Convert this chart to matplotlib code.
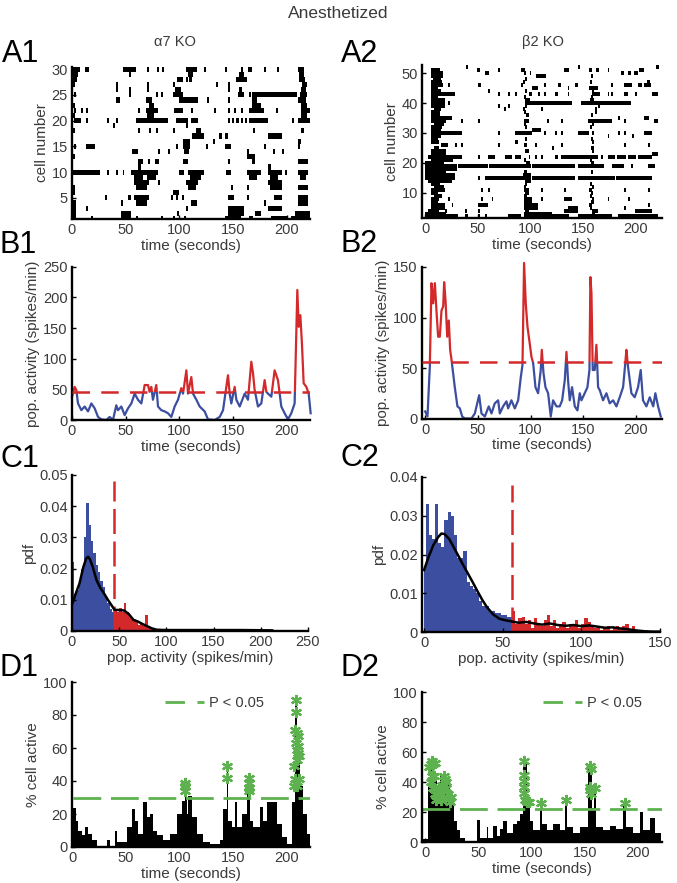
import matplotlib
matplotlib.use('Agg')
import matplotlib.pyplot as plt
import numpy as np
from matplotlib.patches import Rectangle
from matplotlib.lines import Line2D

plt.rcParams['font.family'] = ['Liberation Sans', 'DejaVu Sans']

# ---------------- DATA ----------------
# A1 raster: (cell, start s, end s)
A1_events = [
    (30,1,7),(30,12,15.5),(30,47,60),(30,70,72),(30,79,81),(30,84,86),(30,106,116),(30,123,124.5),
    (30,142,143.5),(30,157,158.5),(30,164,167),(30,179,180.5),(30,191,193),(30,210,216),
    (29,1,6),(28,1,5),(29,53,55),(28,106,107.5),(29,108,113),(28,109,112),(28,153,163),(29,155,160),
    (28,211,217),(29,211,216),
    (26,41,42.5),(27,41,42.5),(26,53,55),(27,70,71.5),(26,70,71.5),(27,94,95.5),(28,98,103),(27,134,135.5),
    (26,145,146.5),(27,145,146.5),(25,154,160),(26,155,158),(25,165,166.5),(27,214,219),(26,213,218),
    (25,2,3.5),(24,41,44.5),(25,53,55),(24,69,74),(25,78,79.5),(25,83,84.5),(26,96,101),(25,94,103),
    (24,100,117),(24,126,127.5),(24,145,146.5),(25,167,209),(24,167,172),(24,210,218),(25,212,219),
    (22,2,3.5),(22,8,9.5),(22,13,14.5),(22,61,62.5),(22,69,80),(23,72,76),(22,95,103),(22,111,112.5),
    (22,132,133.5),(22,145,146.5),(22,151,152.5),(22,157.5,159),(22,165,179),(23,167,176),(22,190,191.5),
    (22,213,221),(23,213,219),
    (20,2,8.5),(20,13,14.5),(20,33,34.5),(20,41,42.5),(20,60,89),(21,70,76),(20,97,108),(20,111,117),
    (20,145,147),(20,149,151),(20,153,155),(20,157,159),(20,161,163),(20,165,176),(20,176,182),
    (20,205,206.5),(20,210,222),(21,213,219),
    (19,38,39.5),(18,61,62.5),(18,72,73.5),(18,78,79.5),(18,94,95.5),(19,106,107.5),(17,112,123),
    (18,115,120),(18,168,169.5),(17,182,195),(18,213,216),
    (16,103,110),(16,131,132.7),(17,137,140),(17,142,145),(16,210,213),
    (15,2,3.5),(15,13,21),(14,56,61),(14,80,81.5),(14,89,90.5),(15,97,98.5),(15,103,110),(14,104,109),
    (15,125,126.5),(15,142,148),(14,163,164.5),(15,179,180.5),(14,187,188.5),(14,195,196.5),(15,210,212),
    (12,61,66),(12,71,72.5),(12,77,81),(12,103,108),(12,145,146.5),(13,163,170),(12,167,170),(11,182,185),
    (12,210,220),
    (10,0,25.7),(10,33,34.5),(10,41,42.5),(10,47,48.5),(10,55,68),(9,58,66),(11,61,64),(10,68,80),
    (9,70,78),(10,100,104),(10,108,123),(9,110,120),(10,143,148),(10,163,176),(9,165,172),(10,182,195),
    (9,184,192),(10,198,199.5),(10,210,220),(9,212,218),
    (8,58,72),(7,60,70),(8,80,81.5),(8,106,117),(7,108,115),(7,148,149.5),(7,163,164.5),(8,182,195),
    (7,184,195),(7,210,220),
    (4,1,4),(5,31,32.5),(4,46,47.5),(5,52,55),(5,58,72),(4,60,70),(6,94,100),(5,92,94),(5,97,99),
    (5,102,104),(4,111,116),(5,145,151),(5,163,164.5),(4,179,180.5),(5,188,195),(5,210,220),(4,210,220),
    (3,1,4),(2,1,4),(3,13,15),(2,46,55),(2,98,99.5),(3,106,107.5),(3,145,160),(2,145,160),(2,170,176),
    (3,182,195),(2,207,221),
    (1,1,4),(1,18,19.5),(1,46,55),(1,60,61.5),(1,83,84.5),(1,94,95.5),(1,104,106),(1,142,157),
    (1,165,168),(1,185,201),(1,204,221),
    (27,1,3),(23,1,3),(21,1,3),(18,1,3),(13,1,3),(7,1,3),(6,1,3),
]

# A2 raster: (cell, start s, end s)
A2_events = [
    (50,6,17),(49,6,17),(48,7,15),(51,6,14),
    (52,39,40.5),(51,49,52),(50,57,61),(51,69,70.5),(51,91,95),(50,99,100.5),(49,105,115),(51,132,136),
    (52,145,146.5),(51,155,158),(51,162,165),(51,173,174.5),(50,186,189),(50,192,195),(50,198,202),
    (51,203,208),(52,219,222),
    (46,6,17),(45,6,12),(46,22,23.5),(46,50,53),(44,60,61.5),(46,91,92.5),(45,101,107),(46,113,114.5),
    (46,126,129),(45,135,136.5),(46,142,145),(45,155,164),(46,176,177.5),(46,189,196),(46,202,206),
    (46,208,214),(47,210,213),
    (43,6,28),(44,6,15),(42,6,12),(43,69,70.5),(43,79,80.5),(43,85,86.5),(43,98,101),(43,107,108.5),
    (43,113,114.5),(43,123,126),(43,135,136.5),(43,158,166),(43,173,174.5),(43,176,177.5),(43,189,192),
    (43,199,200.5),(43,215,221),
    (41,6,19),(40,6,19),(39,6,19),(38,8,15),(40,22,23.5),(39,69,70.5),(38,75,76.5),(39,79,80.5),
    (40,95,139),(39,95,96.5),(38,93,94.5),(38,110,111.5),(40,148,195),(38,161,162.5),(37,161,162.5),
    (39,164,165.5),
    (35,6,25),(34,6,20),(33,8,18),(36,6,14),(34,34,35.5),(34,50,51.5),(34,94,98),(34,116,117.5),
    (34,129,130.5),(34,154,177),(35,183,184.5),(34,189,190.5),(35,208,212),(34,217,221),
    (30,6,35),(31,6,15),(29,6,15),(30,69,70.5),(30,85,101),(31,101,110),(30,113,114.5),(30,123,124.5),
    (30,129,130.5),(30,145,155),(30,158,159.5),(29,173,174.5),(30,183,184.5),(30,189,190.5),
    (29,196,197.5),(30,208,215),
    (27,6,13),(26,15,22),(26,28,29.5),(26,34,35.5),(26,69,70.5),(27,85,88),(26,104,105.5),(25,120,121.5),
    (26,129,130.5),(27,158,159.5),(26,189,190.5),(26,211,212.5),
    (22,3,35),(23,6,20),(22,50,51.5),(22,60,66),(22,76,82),(22,85,91),(22,98,99.5),(22,104,105.5),
    (22,110,111.5),(22,123,126),(22,129,158),(22,158,164),(22,167,168.5),(22,173,180),(22,182,190),
    (22,192,200),(22,202,215),(23,215,221),
    (19,0,30),(19,31,60),(19,61,100),(19,101,142),(19,145,170),(19,177,189),(19,195,196.5),(19,211,218),
    (18,0,30),(20,0,10),
    (16,0,28),(15,0,28),(17,0,20),(14,3,25),(15,50,51.5),(15,57,100),(15,101,142),(15,145,180),
    (15,181,215),(16,93,100),(14,95,100),
    (11,6,19),(11,53,54.5),(11,60,61.5),(11,94,98),(11,110,111.5),(11,132,133.5),(11,155,158),
    (11,189,190.5),(11,211,212.5),
    (8,6,13),(8,22,23.5),(8,53,54.5),(8,63,64.5),(8,94,101),(7,94,101),(8,110,111.5),(8,132,139),
    (8,158,159.5),(8,173,174.5),(8,192,193.5),
    (6,6,19),(5,6,19),(6,25,26.5),(6,50,60),(5,94,107),(6,94,107),(5,135,145),(6,155,158),
    (5,189,190.5),(6,211,212.5),
    (4,3,13),(4,19,20.5),(4,38,39.5),(4,50,51.5),(3,94,120),(4,132,145),(4,158,164),(4,199,215),
    (2,0,31),(2,38,41),(2,50,51.5),(2,57,58.5),(2,79,91),(2,94,136),(2,145,177),(2,183,221),(3,0,12),
    # early burst band
    (47,6,16),(37,6,14),(32,6,16),(28,6,12),(25,8,13),(24,6,20),(21,6,26),(20,6,18),(13,6,14),
    (12,8,18),(10,6,12),(9,8,16),(7,6,12),(3,6,20),
    # band near 95 s
    (50,94,96),(48,95,97),(47,93,95),(44,95,97),(42,94,96),(41,95,99),(37,94,96),(36,96,98),(33,94,96),
    (32,95,97),(28,95,97),(26,94,97),(24,95,98),(21,94,96),(20,96,99),(17,94,97),(13,95,97),(12,94,96),
    (10,95,98),(9,94,97),(4,95,98),
    # band near 157 s
    (49,157,159),(47,156,158),(44,158,160),(42,157,159),(41,156,160),(36,157,159),(33,158,160),
    (32,156,158),(28,157,159),(25,157,160),(24,158,160),(21,156,158),(20,157,160),(17,157,159),
    (13,156,158),(12,158,160),(10,157,159),(9,156,158),(7,157,160),(5,156,158),(3,158,161),
]

# B1 population activity
B1_t = [0,2.5,4.0,5.6,8.7,11.8,14.9,18.0,21.1,24.2,27.3,31.9,35.0,38.1,41.2,42.8,45.9,49.0,52.1,55.2,
        58.3,61.4,64.5,67.6,70.7,72.2,73.8,75.3,78.4,80.0,83.1,86.2,89.3,92.4,95.5,98.6,101.7,103.3,106.4,
        107.9,111.0,112.6,115.7,118.8,123.4,126.5,132.7,137.4,140.5,145.1,146.7,148.2,151.3,152.9,156.0,
        160.6,163.7,166.8,168.4,169.9,173.0,176.1,179.2,180.8,182.3,185.4,188.5,191.6,194.7,197.8,200.9,
        204.0,207.1,209.6,210.9,212.4,213.9,215.5,218.0,220.2,222.0]
B1_v = [38,54,49,27,16,22,14,27,19,5,1,0,5,0,24,16,22,8,19,27,
        43,33,27,57,57,46,54,33,57,22,16,14,11,5,22,33,52,43,81,
        43,70,43,33,22,14,1,0,5,16,73,43,27,54,33,22,
        43,33,95,76,49,22,27,65,46,43,38,81,65,22,11,1,
        11,27,212,152,171,125,60,54,43,11]
B1_thr = 45

# B2 population activity
B2_t = [0,2.2,4.4,6.0,7.6,9.2,10.7,12.3,13.9,15.5,17.1,18.0,19.3,20.9,22.4,23.7,25.0,26.5,28.1,30.6,
        32.9,35.1,37.6,43.9,47.1,48.7,51.2,53.4,56.6,60.3,62.9,66.0,69.2,70.8,73.9,77.1,78.7,81.8,85.0,
        88.2,90.7,92.3,93.8,95.4,97.0,99.2,100.8,102.4,104.6,107.1,109.6,110.6,112.2,114.1,116.6,119.1,
        121.3,124.5,127.6,129.9,132.4,134.0,135.5,137.1,139.3,141.9,144.4,146.6,148.2,151.3,153.9,155.8,
        156.7,157.7,158.9,160.8,162.4,164.0,165.6,168.7,171.9,175.0,178.2,181.4,184.5,187.7,189.9,190.8,
        192.4,195.6,198.7,201.9,204.4,206.6,209.8,213.0,216.3,218.3,220.9,223.4]
B2_v = [7,2,51,134,114,134,107,81,81,107,111,135,117,81,97,68,58,45,31,12,
        10,2,0,0,5,12,23,5,2,12,5,15,18,5,12,17,10,18,10,
        18,41,53,154,114,91,74,61,55,31,25,48,68,45,31,25,2,
        18,12,12,18,38,66,38,18,31,12,8,25,18,25,31,48,
        140,124,48,48,73,31,28,18,25,15,18,12,21,31,56,68,
        51,25,21,31,48,18,12,21,12,25,12,2]
B2_thr = 56

# C1 histogram (pdf)
C1_edges = [0,2.5,5,7.5,10,12.5,15,17.5,20,22.5,25,27.5,30,32.5,35,37.5,40,42.5,45]
C1_blue = [0.022,0.012,0.013,0.016,0.020,0.030,0.041,0.034,0.029,0.025,0.021,0.019,0.016,0.014,
           0.011,0.009,0.007,0.006]
C1_red_edges = [45,47.5,50,52.5,55,57.5,60,62.5,65,67.5,70,72.5,75,77.5,80,82.5,85,87.5,90]
C1_red = [0.007,0.006,0.0075,0.006,0.009,0.006,0.005,0.004,0.0035,0.003,0.002,0.0025,0.0015,0.005,
          0.0015,0.001,0.0005,0.0005]
C1_tail_left = [147.5,150,197.5,210]
C1_tail_h = [0.0008,0.0005,0.0006,0.0004]
C1_kde_x = [0,4,8,12,15,17,19,22,26,30,34,38,42,45,50,55,60,65,70,75,80,85,90,100,120,150,180,212]
C1_kde_y = [0.0085,0.012,0.0153,0.0205,0.0232,0.0238,0.0230,0.0205,0.0163,0.0138,0.0120,0.0100,0.0082,
            0.0068,0.0067,0.0066,0.0055,0.0036,0.0030,0.0022,0.0015,0.0008,0.0004,0.0003,0.0003,0.0003,
            0.0003,0.0002]
C1_thr = 45

# C2 histogram (pdf)
C2_edges = [0,1.2,3,5,7,9,11,13,15,17,19,21,23,25,27,29,31,33,35,37,39,41,43,45,47,49,51,53,56]
C2_blue = [0.0165,0.033,0.025,0.024,0.033,0.023,0.022,0.029,0.031,0.030,0.025,0.019,0.019,0.021,
           0.013,0.012,0.011,0.010,0.008,0.0066,0.0066,0.0055,0.0054,0.005,0.005,0.0045,0.0045,0.004]
C2_red_edges = [56,58,60,62,64,66,68,70,72,74,76,78,80,82,84,86,88,90,92,94,96,98,100,102,104,106,
                108,110,112,114,116,118,120,122,124,126,128,130,132,134,136,138]
C2_red = [0.0055,0.002,0.0035,0.004,0.002,0.003,0.001,0.0035,0.002,0.0015,0.003,0.0045,0.0015,0.003,
          0.001,0.002,0.0025,0.001,0.002,0.0015,0.003,0.001,0.002,0.0035,0.0025,0.0015,0.001,0.0015,
          0.0005,0.001,0.0015,0.0005,0.001,0.0015,0.001,0.0015,0.002,0.0005,0.0015,0.0005,0.0005]
C2_kde_x = [0,3,6,9,11,13,16,19,22,25,28,31,34,37,40,44,48,52,56,60,65,70,75,80,85,90,95,100,105,110,
            115,120,125,130,135,140,145,150]
C2_kde_y = [0.016,0.0195,0.0225,0.0245,0.0254,0.0253,0.0240,0.0218,0.0195,0.0172,0.0150,0.0128,0.0105,
            0.0083,0.0064,0.0045,0.0034,0.0030,0.0027,0.0024,0.0026,0.0022,0.0019,0.0022,0.0018,0.0016,
            0.0018,0.0015,0.0017,0.0014,0.0011,0.0012,0.0009,0.0007,0.0004,0.0002,0.0001,0.0001]
C2_thr = 56

# D1 % cells active (step bars)
D1_edges = [0,3.4,5.5,8.6,11.7,14.8,17.9,22.6,31.9,35.0,39.7,41.2,50.6,55.2,58.3,61.4,66.1,69.3,72.4,
            75.5,78.6,84.9,91.1,97.3,102.0,105.1,106.7,108.2,111.4,116.0,122.3,128.5,137.9,141.0,144.1,
            145.6,148.8,151.9,154.1,158.1,162.8,165.9,169.0,175.2,178.4,181.5,184.6,190.8,195.5,200.2,
            204.8,207.9,209.5,212.6,215.7,218.8,222]
D1_pct = [23.5,16,10,7,12,8,4,0,4,0,10,3,12,23,16,8,27,18,20,10,7,4,8,20,28,38,20,31,18,8,
          3,2,4,23,48,16,12,27,12,20,38,16,12,24,16,27,27,14,6,2,27,88,63,37,20,8]
D1_star_t = [105,105,105,144,144,165,165,165,165,209,209,208,210,211,209,211,210,211,212,210,207,208,
             212,207,210]
D1_star_p = [34,37,39,49,42,34,36,39,42,89,82,71,69,67,63,61,59,57,55,53,49,41,41,37,37]
D1_sig = 30

# D2 % cells active (step bars)
D2_edges = [-3.1,3.1,5.3,7.8,10.9,14.1,17.2,20.3,23.4,26.6,29.7,32.8,37.5,48.4,51.6,57.8,59.4,64.1,
            67.2,70.3,73.5,76.6,82.8,86.0,89.1,91.6,95.3,98.4,101.5,107.8,109.7,114.1,120.3,126.6,131.3,
            133.5,139.1,145.4,153.1,156.3,158.5,160.9,167.2,173.4,179.7,185.9,189.1,195.3,201.6,204.7,
            210.9,215.6,221.9]
D2_pct = [2,39,55,45,30,45,40,38,25,14,8,3,1,15,3,10,3,11,4,9,14,6,12,14,19,54,28,14,8,26,
          12,8,12,8,28,10,6,10,52,23,37,10,8,11,9,27,10,6,20,8,16,6]
D2_star_t = [4,5,6,7,9,8,6,5,7,9,10,12,14,16,18,19,20,21,22,23,12,15,17,24,20,
             93,93,93,93,93,94,96,98,108.7,132.4,155,155.5,154.5,155,155.5,159.7,187.5]
D2_star_p = [50,52,54,52,53,44,44,40,36,32,28,30,33,38,44,42,36,32,29,27,35,28,30,30,40,
             54,45,41,37,33,28,27,27,26,28,51,49,37,35,32,36,26]
D2_sig = 22

# ---------------- STYLE ----------------
BLUE = '#3c4e9f'
RED = '#d3292b'
GREEN = '#5db14f'
TXT = '#3a3a3a'
W, H = 677, 883

fig = plt.figure(figsize=(W / 100, H / 100), dpi=100)


def axes_px(l, t, r, b):
    return fig.add_axes([l / W, 1 - b / H, (r - l) / W, (b - t) / H])


def style(ax, xlim, ylim, xticks, yticks, xlabel, ylabel, yticklabels=None):
    for s in ['top', 'right']:
        ax.spines[s].set_visible(False)
    for s in ['left', 'bottom']:
        ax.spines[s].set_linewidth(1.7)
    ax.set_xlim(xlim)
    ax.set_ylim(ylim)
    ax.set_xticks(xticks)
    ax.set_yticks(yticks)
    if yticklabels is not None:
        ax.set_yticklabels(yticklabels)
    ax.tick_params(direction='in', length=3, width=1, labelsize=10.5, labelcolor=TXT, pad=3)
    ax.set_xlabel(xlabel, fontsize=11, color=TXT, labelpad=1)
    ax.set_ylabel(ylabel, fontsize=11, color=TXT, labelpad=2)


def raster(ax, events, height, minw):
    c = np.array([e[0] for e in events], float)
    s = np.array([e[1] for e in events], float)
    e = np.array([e[2] for e in events], float)
    w = np.maximum(e - s, minw)
    ax.barh(c, w, left=s, height=height, color='k', linewidth=0)


def trace(ax, t, v, thr, xlim):
    lb, = ax.plot(t, v, color=BLUE, lw=1.6, zorder=2)
    lr, = ax.plot(t, v, color=RED, lw=1.6, zorder=2)
    rb = Rectangle((xlim[0] - 50, -100), 1000, thr + 100, transform=ax.transData)
    ra = Rectangle((xlim[0] - 50, thr), 1000, 2000, transform=ax.transData)
    lb.set_clip_path(rb)
    lr.set_clip_path(ra)
    ax.plot([xlim[0], xlim[1]], [thr, thr], color=RED, lw=1.8, dashes=(7, 4.5), zorder=3)


tticks = [0, 50, 100, 150, 200]

# A1
ax = axes_px(72, 66.7, 310, 219.3)
raster(ax, A1_events, 1.0, 1.8)
style(ax, (0, 221.4), (0.85, 30.45), tticks, [5, 10, 15, 20, 25, 30], 'time (seconds)', 'cell number')

# A2
ax = axes_px(422, 65, 662, 218)
raster(ax, A2_events, 1.35, 1.8)
style(ax, (-3, 224.6), (1.5, 52.8), tticks, [10, 20, 30, 40, 50], 'time (seconds)', 'cell number')

# B1
ax = axes_px(72, 266.7, 310, 420)
xl = (0, 221.4)
trace(ax, B1_t, B1_v, B1_thr, xl)
style(ax, xl, (0, 250), tticks, [0, 50, 100, 150, 200, 250], 'time (seconds)', 'pop. activity (spikes/min)')

# B2
ax = axes_px(422, 267, 662, 418.5)
xl = (-3, 224.6)
trace(ax, B2_t, B2_v, B2_thr, xl)
style(ax, xl, (0, 150), tticks, [0, 50, 100, 150], 'time (seconds)', 'pop. activity (spikes/min)')

# C1
ax = axes_px(72, 475, 308, 631)
ax.stairs(C1_blue, C1_edges, fill=True, color=BLUE, linewidth=0)
ax.stairs(C1_red, C1_red_edges, fill=True, color=RED, linewidth=0)
ax.bar(C1_tail_left, C1_tail_h, width=2.5, align='edge', color=RED, linewidth=0)
ax.plot([C1_thr, C1_thr], [0, 0.048], color=RED, lw=1.8, dashes=(10, 3), zorder=1)
ax.plot(C1_kde_x, C1_kde_y, color='k', lw=1.8, zorder=3)
style(ax, (0, 250), (0, 0.05), [0, 50, 100, 150, 200, 250], [0, 0.01, 0.02, 0.03, 0.04, 0.05],
      'pop. activity (spikes/min)', 'pdf', ['0', '0.01', '0.02', '0.03', '0.04', '0.05'])

# C2
ax = axes_px(422, 477, 660, 632)
ax.stairs(C2_blue, C2_edges, fill=True, color=BLUE, linewidth=0)
ax.stairs(C2_red, C2_red_edges, fill=True, color=RED, linewidth=0)
ax.plot([C2_thr, C2_thr], [0, 0.038], color=RED, lw=1.8, dashes=(10, 3), zorder=1)
ax.plot(C2_kde_x, C2_kde_y, color='k', lw=1.8, zorder=3)
style(ax, (-1.3, 150), (0, 0.04), [0, 50, 100, 150], [0, 0.01, 0.02, 0.03, 0.04],
      'pop. activity (spikes/min)', 'pdf', ['0', '0.01', '0.02', '0.03', '0.04'])

# D1
ax = axes_px(72, 682, 310, 847)
ax.stairs(D1_pct, D1_edges, fill=True, color='k', linewidth=0)
ax.plot([0, 222], [D1_sig, D1_sig], color=GREEN, lw=2.0, dashes=(10, 3.5), zorder=2)
ax.plot(D1_star_t, D1_star_p, linestyle='none', marker=(6, 2, 0), markersize=8, mew=1.6,
        color=GREEN, zorder=4)
h = Line2D([], [], color=GREEN, lw=2.0, dashes=(7, 4.5))
ax.legend([h], ['P < 0.05'], loc='center right', bbox_to_anchor=(0.83, 0.875), frameon=False,
          fontsize=10.5, handlelength=2.7, handletextpad=0.3, labelcolor=TXT, borderaxespad=0)
style(ax, (-0.5, 222), (0, 100), tticks, [0, 20, 40, 60, 80, 100], 'time (seconds)', '% cell active')

# D2
ax = axes_px(422, 692, 662, 842)
ax.stairs(D2_pct, D2_edges, fill=True, color='k', linewidth=0)
ax.plot([-3, 222.5], [D2_sig, D2_sig], color=GREEN, lw=2.0, dashes=(10, 3.5), zorder=2)
ax.plot(D2_star_t, D2_star_p, linestyle='none', marker=(6, 2, 0), markersize=8, mew=1.6,
        color=GREEN, zorder=4)
h = Line2D([], [], color=GREEN, lw=2.0, dashes=(7, 4.5))
ax.legend([h], ['P < 0.05'], loc='center right', bbox_to_anchor=(0.94, 0.927), frameon=False,
          fontsize=10.5, handlelength=2.7, handletextpad=0.3, labelcolor=TXT, borderaxespad=0)
style(ax, (-3, 222.5), (0, 100), tticks, [0, 20, 40, 60, 80, 100], 'time (seconds)', '% cell active')

# ---------------- TEXT ----------------
fig.text(0.5, 1 - 13 / H, 'Anesthetized', ha='center', va='center', fontsize=12.5, color=TXT)
fig.text(175 / W, 1 - 42 / H, 'α7 KO', ha='center', va='center', fontsize=10.5, color=TXT)
fig.text(543 / W, 1 - 42 / H, 'β2 KO', ha='center', va='center', fontsize=10.5, color=TXT)
for lab, x, y in [('A1', 2, 54), ('A2', 341, 54), ('B1', 0, 245), ('B2', 340, 244),
                  ('C1', 0, 459), ('C2', 340, 458), ('D1', 0, 668), ('D2', 340, 668)]:
    fig.text(x / W, 1 - y / H, lab, ha='left', va='center', fontsize=22, color='k')

fig.savefig('out.png', dpi=100)
